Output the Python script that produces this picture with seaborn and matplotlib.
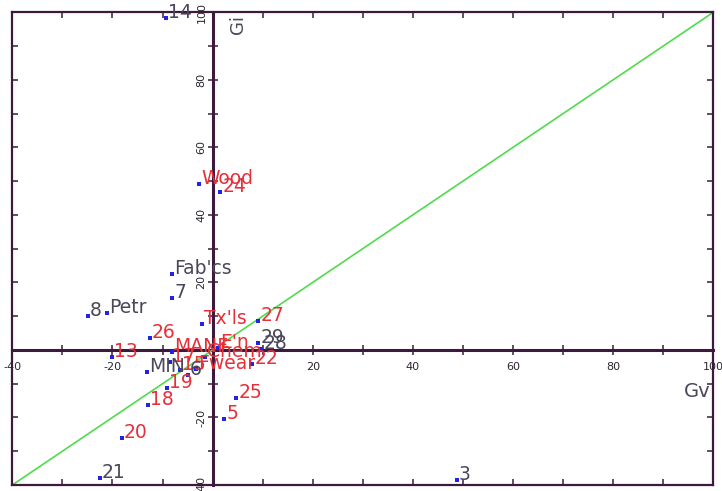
import matplotlib
matplotlib.use("Agg")
import matplotlib.pyplot as plt
import matplotlib.ticker as mticker
import seaborn as sns
import pandas as pd

# Sector codes and their coordinates on the Gv / Gi plane
labels = ["14", "Wood", "24", "Fab'cs", "7", "8", "Petr", "Tx'ls", "27", "26",
          "29", "28", "13", "MANF", "17", "E'n", "Chem", "15", "Fwear", "22",
          "MIN", "6", "19", "18", "25", "5", "20", "21", "3"]
gv = [-9.3, -2.7, 1.5, -8.1, -8.1, -24.9, -21.1, -2.1, 9.1, -12.5,
      9.1, 9.7, -20.1, -8.1, -8.5, 1.1, -1.5, -6.5, -3.3, 7.9,
      -13.1, -4.9, -9.1, -12.9, 4.7, 2.3, -18.1, -22.5, 48.8]
gi = [98.3, 49.2, 46.8, 22.5, 15.4, 10.1, 11.0, 7.7, 8.6, 3.6,
      2.1, 0.3, -2.1, -0.6, -3.6, 0.6, -2.1, -5.9, -5.6, -4.1,
      -6.5, -7.4, -11.3, -16.3, -14.2, -20.4, -26.1, -37.9, -38.5]
# 1 = highlighted sector, 0 = other
highlighted = [0, 1, 1, 0, 0, 0, 0, 1, 1, 1,
               0, 0, 1, 1, 1, 1, 1, 1, 1, 1,
               0, 0, 1, 1, 1, 1, 1, 0, 0]

# Reference diagonal Gi = Gv
diag_gv = [-40, 100]
diag_gi = [-40, 100]

x_range = (-40, 100)
y_range = (-40, 100)

df = pd.DataFrame({"label": labels, "Gv": gv, "Gi": gi, "hl": highlighted})

FRAME = "#3d1a3d"
GREEN = "#4fdc4a"
BLUE = "#2323e6"
RED = "#e5303a"
GRAY = "#4b4759"
TICKTXT = "#2b2630"

plt.rcParams["axes.unicode_minus"] = False
plt.rcParams["font.family"] = ["DejaVu Sans"]

fig = plt.figure(figsize=(7.22, 4.91), dpi=100)
fig.patch.set_facecolor("white")
rect = [12.3 / 722, 1 - 485.0 / 491, (713.3 - 12.3) / 722, (485.0 - 12.3) / 491]

# Axes through the origin (drawn underneath the data)
zax = fig.add_axes(rect)
zax.set_xlim(*x_range)
zax.set_ylim(*y_range)
zax.patch.set_visible(False)
for side in ("top", "right"):
    zax.spines[side].set_visible(False)
for side in ("left", "bottom"):
    zax.spines[side].set_position(("data", 0))
    zax.spines[side].set_color(FRAME)
    zax.spines[side].set_linewidth(2.2)
    zax.spines[side].set_zorder(1)

def skip_zero(v, pos):
    return "" if abs(v) < 1e-9 else f"{v:.0f}"

for axis in (zax.xaxis, zax.yaxis):
    axis.set_major_locator(mticker.MultipleLocator(20))
    axis.set_minor_locator(mticker.MultipleLocator(10))
    axis.set_major_formatter(mticker.FuncFormatter(skip_zero))
zax.tick_params(which="both", direction="inout", length=7, width=1.1,
                color=FRAME, labelcolor=TICKTXT, labelsize=8)
zax.tick_params(axis="x", which="major", pad=5)
zax.tick_params(axis="y", which="major", pad=1, labelrotation=90)
for t in zax.get_yticklabels():
    t.set_va("center")

# Data axes with the outer frame
ax = fig.add_axes(rect)
ax.patch.set_visible(False)

sns.lineplot(x=diag_gv, y=diag_gi, ax=ax, color=GREEN, linewidth=1.2,
             zorder=2, legend=False)
sns.scatterplot(data=df, x="Gv", y="Gi", ax=ax, marker="s", s=7,
                color=BLUE, linewidth=0, zorder=3, legend=False)

for _, row in df.iterrows():
    ax.annotate(row["label"], (row["Gv"], row["Gi"]),
                xytext=(1.5, 0), textcoords="offset points",
                ha="left", va="baseline", fontsize=13.5,
                color=RED if row["hl"] else GRAY, zorder=4)

ax.set_xlim(*x_range)
ax.set_ylim(*y_range)
ax.set_xlabel("")
ax.set_ylabel("")
for side in ax.spines.values():
    side.set_color(FRAME)
    side.set_linewidth(1.6)
ax.xaxis.set_major_locator(mticker.MultipleLocator(10))
ax.yaxis.set_major_locator(mticker.MultipleLocator(10))
ax.tick_params(which="both", direction="in", length=4.5, width=1.1,
               color=FRAME, top=True, right=True,
               labelbottom=False, labelleft=False)

# Axis names
ax.text(99.5, -13.9, "Gv", ha="right", va="baseline", fontsize=14, color=GRAY)
ax.text(5.1, 99.2, "Gi", ha="center", va="top", rotation=90, fontsize=13,
        color=GRAY)

fig.savefig("out.png", dpi=100, facecolor="white")
